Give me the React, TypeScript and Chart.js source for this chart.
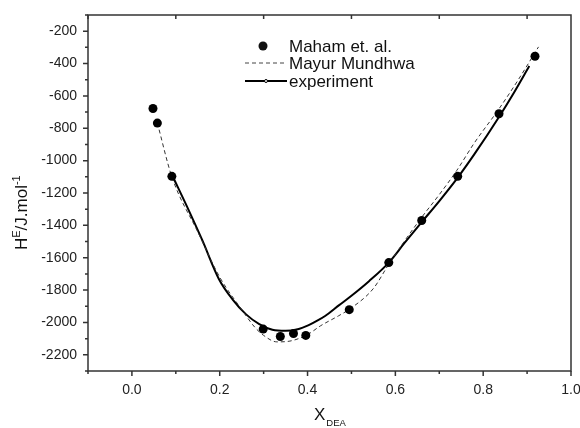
import React, { useEffect, useRef } from "react";
import { Chart, registerables } from "chart.js";

Chart.register(...registerables);

// Maham et. al. (points)
const mahamX = [0.048, 0.058, 0.091, 0.299, 0.338, 0.368, 0.396, 0.495, 0.585, 0.66, 0.742, 0.836, 0.918];
const mahamY = [-678, -768, -1097, -2041, -2087, -2068, -2080, -1921, -1630, -1370, -1097, -710, -355];

// Mayur Mundhwa (dashed)
const mayurX = [0.058, 0.091, 0.15, 0.2, 0.25, 0.28, 0.3, 0.33, 0.36, 0.4, 0.43, 0.47, 0.5, 0.55, 0.585, 0.62, 0.66, 0.7, 0.74, 0.78, 0.836, 0.88, 0.926];
const mayurY = [-768, -1100, -1440, -1720, -1920, -2030, -2080, -2120, -2115, -2075, -2020, -1960, -1910, -1790, -1640, -1500, -1350, -1210, -1060, -890, -680, -500, -297];

// experiment (solid)
const expX = [0.093, 0.13, 0.16, 0.198, 0.23, 0.26, 0.29, 0.32, 0.35, 0.38, 0.4, 0.42, 0.44, 0.472, 0.5, 0.54, 0.585, 0.62, 0.66, 0.7, 0.742, 0.78, 0.836, 0.87, 0.905];
const expY = [-1098, -1310, -1490, -1731, -1860, -1950, -2010, -2045, -2052, -2040, -2020, -1992, -1960, -1893, -1835, -1745, -1630, -1512, -1380, -1250, -1105, -960, -730, -580, -415];

const seriesLabels = ["Maham et. al.", "Mayur Mundhwa", "experiment"];

const xMajorTicks = [0.0, 0.2, 0.4, 0.6, 0.8, 1.0];
const xMinorTicks = [-0.1, 0.1, 0.3, 0.5, 0.7, 0.9];
const yMajorTicks = [-200, -400, -600, -800, -1000, -1200, -1400, -1600, -1800, -2000, -2200];
const yMinorTicks = [-100, -300, -500, -700, -900, -1100, -1300, -1500, -1700, -1900, -2100, -2300];

const FONT = "'Liberation Sans', Arial, sans-serif";

const toPts = (xs: number[], ys: number[]) => xs.map((x, i) => ({ x, y: ys[i] }));

const framePlugin = {
  id: "frame",
  afterDraw(chart: any) {
    const { ctx, chartArea } = chart;
    const { left, right, top, bottom } = chartArea;
    const xs = chart.scales.x;
    const ys = chart.scales.y;
    ctx.save();
    ctx.strokeStyle = "#333";
    ctx.lineWidth = 1.5;
    ctx.strokeRect(left, top, right - left, bottom - top);
    ctx.beginPath();
    xMajorTicks.forEach((v) => {
      const p = xs.getPixelForValue(v);
      ctx.moveTo(p, bottom);
      ctx.lineTo(p, bottom + 5);
    });
    xMinorTicks.forEach((v) => {
      const p = xs.getPixelForValue(v);
      ctx.moveTo(p, bottom);
      ctx.lineTo(p, bottom + 3);
      ctx.moveTo(p, top);
      ctx.lineTo(p, top + 4);
    });
    yMajorTicks.forEach((v) => {
      const p = ys.getPixelForValue(v);
      ctx.moveTo(left, p);
      ctx.lineTo(left - 5, p);
    });
    yMinorTicks.forEach((v) => {
      const p = ys.getPixelForValue(v);
      ctx.moveTo(left, p);
      ctx.lineTo(left - 3, p);
    });
    ctx.stroke();

    // legend
    const ds = chart.data.datasets;
    ctx.fillStyle = "#111";
    ctx.textBaseline = "middle";
    ctx.textAlign = "left";
    ctx.font = `17px ${FONT}`;
    const tx = 289;
    const rows = [46, 63, 81];
    ctx.beginPath();
    ctx.arc(263, rows[0], 4.5, 0, Math.PI * 2);
    ctx.fill();
    ctx.fillText(ds[0].label, tx, rows[0] + 1);
    ctx.save();
    ctx.strokeStyle = "#444";
    ctx.lineWidth = 1;
    ctx.setLineDash([4, 3]);
    ctx.beginPath();
    ctx.moveTo(245, rows[1]);
    ctx.lineTo(287, rows[1]);
    ctx.stroke();
    ctx.restore();
    ctx.fillText(ds[1].label, tx, rows[1] + 1);
    ctx.strokeStyle = "#000";
    ctx.lineWidth = 2;
    ctx.beginPath();
    ctx.moveTo(245, rows[2]);
    ctx.lineTo(287, rows[2]);
    ctx.stroke();
    ctx.fillStyle = "#fff";
    ctx.lineWidth = 1;
    ctx.beginPath();
    ctx.arc(266, rows[2], 1.5, 0, Math.PI * 2);
    ctx.fill();
    ctx.stroke();
    ctx.fillStyle = "#111";
    ctx.fillText(ds[2].label, tx, rows[2] + 1);

    // x title
    ctx.textBaseline = "alphabetic";
    ctx.font = `17px ${FONT}`;
    const xTitleLeft = 314;
    ctx.fillText("X", xTitleLeft, 420);
    const wX = ctx.measureText("X").width;
    ctx.font = `9.5px ${FONT}`;
    ctx.fillText("DEA", xTitleLeft + wX + 1, 426);

    // y title
    ctx.save();
    ctx.translate(27, 250);
    ctx.rotate(-Math.PI / 2);
    let cx = 0;
    ctx.font = `17px ${FONT}`;
    ctx.fillText("H", cx, 0);
    cx += ctx.measureText("H").width;
    ctx.font = `11px ${FONT}`;
    ctx.fillText("E", cx, -7);
    cx += ctx.measureText("E").width;
    ctx.font = `17px ${FONT}`;
    ctx.fillText("/J.mol", cx, 0);
    cx += ctx.measureText("/J.mol").width;
    ctx.font = `11px ${FONT}`;
    ctx.fillText("-1", cx, -7);
    ctx.restore();

    ctx.restore();
  },
};

export default function App() {
  const ref = useRef<HTMLCanvasElement>(null);
  useEffect(() => {
    if (!ref.current) return;
    const chart = new Chart(ref.current, {
      type: "scatter",
      data: {
        datasets: [
          {
            label: seriesLabels[0],
            data: toPts(mahamX, mahamY),
            showLine: false,
            pointRadius: 4.5,
            pointBackgroundColor: "#000",
            pointBorderColor: "#000",
            pointBorderWidth: 0,
          },
          {
            label: seriesLabels[1],
            data: toPts(mayurX, mayurY),
            showLine: true,
            borderColor: "#333",
            borderWidth: 1,
            borderDash: [4, 3],
            pointRadius: 0,
            tension: 0.4,
            cubicInterpolationMode: "monotone",
          },
          {
            label: seriesLabels[2],
            data: toPts(expX, expY),
            showLine: true,
            borderColor: "#000",
            borderWidth: 2,
            pointRadius: 0,
            tension: 0.4,
            cubicInterpolationMode: "monotone",
          },
        ],
      },
      options: {
        responsive: false,
        animation: false,
        layout: { padding: { top: 15, right: 9, left: 0, bottom: 0 } },
        plugins: { legend: { display: false }, tooltip: { enabled: false } },
        scales: {
          x: {
            type: "linear",
            min: -0.1,
            max: 1.0,
            grid: { display: false, drawTicks: false },
            border: { display: false },
            afterBuildTicks: (s: any) => {
              s.ticks = xMajorTicks.map((v) => ({ value: v }));
            },
            afterFit: (s: any) => {
              s.height = 57;
              s.paddingLeft = 0;
              s.paddingRight = 0;
            },
            ticks: {
              padding: 11,
              color: "#222",
              font: { family: FONT, size: 14 },
              maxRotation: 0,
              autoSkip: false,
              callback: (v: any) => Number(v).toFixed(1),
            },
          },
          y: {
            type: "linear",
            min: -2300,
            max: -100,
            grid: { display: false, drawTicks: false },
            border: { display: false },
            afterBuildTicks: (s: any) => {
              s.ticks = yMajorTicks.map((v) => ({ value: v }));
            },
            afterFit: (s: any) => {
              s.width = 88;
              s.paddingTop = 0;
              s.paddingBottom = 0;
            },
            ticks: {
              padding: 11,
              color: "#222",
              font: { family: FONT, size: 14 },
              autoSkip: false,
              callback: (v: any) => String(v),
            },
          },
        },
      },
      plugins: [framePlugin],
    });
    return () => chart.destroy();
  }, []);
  return (
    <div style={{ position: "fixed", left: 0, top: 0, width: 580, height: 428, background: "#fff" }}>
      <canvas ref={ref} width={580} height={428} style={{ display: "block" }} />
    </div>
  );
}
